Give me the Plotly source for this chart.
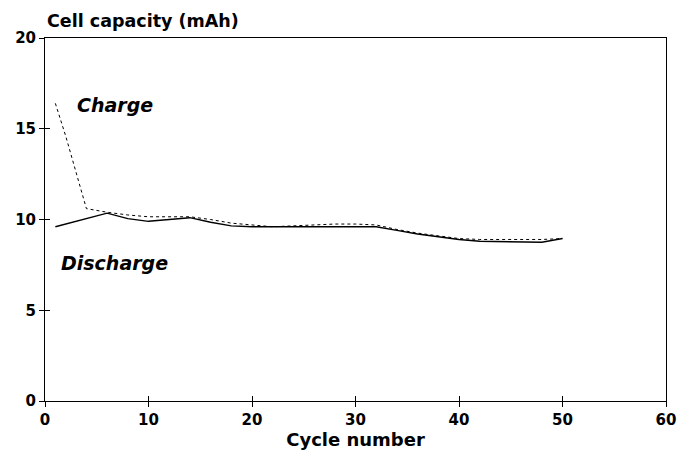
import plotly.graph_objects as go

# Data
charge_cycles = [1, 2, 3, 4, 6, 8, 10, 12, 14, 16, 18, 20, 22, 24, 26, 28, 30, 32, 34, 36, 38, 40, 42, 44, 46, 48, 50]
charge_capacity = [16.4, 14.6, 12.6, 10.6, 10.4, 10.25, 10.15, 10.15, 10.15, 10.0, 9.8, 9.7, 9.6, 9.65, 9.7, 9.75, 9.75, 9.7, 9.45, 9.25, 9.1, 8.95, 8.9, 8.9, 8.9, 8.9, 8.95]

discharge_cycles = [1, 6, 8, 10, 12, 14, 16, 18, 20, 22, 24, 26, 28, 30, 32, 34, 36, 38, 40, 42, 44, 46, 48, 50]
discharge_capacity = [9.6, 10.35, 10.05, 9.9, 10.0, 10.1, 9.85, 9.65, 9.6, 9.6, 9.6, 9.6, 9.6, 9.6, 9.6, 9.4, 9.2, 9.05, 8.9, 8.8, 8.78, 8.75, 8.75, 8.95]

x_ticks = [0, 10, 20, 30, 40, 50, 60]
y_ticks = [0, 5, 10, 15, 20]

FONT = "DejaVu Sans, Arial, sans-serif"

fig = go.Figure()
fig.add_trace(go.Scatter(x=charge_cycles, y=charge_capacity, mode="lines",
                         line=dict(color="black", width=1, dash="dot"),
                         showlegend=False, hoverinfo="skip"))
fig.add_trace(go.Scatter(x=discharge_cycles, y=discharge_capacity, mode="lines",
                         line=dict(color="black", width=1.4),
                         showlegend=False, hoverinfo="skip"))
# invisible trace to bind overlay axes (inside tick marks so ticks cross the axes)
fig.add_trace(go.Scatter(x=[x_ticks[0]], y=[y_ticks[0]], xaxis="x2", yaxis="y2",
                         mode="markers", marker=dict(opacity=0), showlegend=False,
                         hoverinfo="skip"))

axis_common = dict(showgrid=False, zeroline=False, showline=True, linecolor="black",
                   linewidth=1, ticks="outside", ticklen=5, tickwidth=1, tickcolor="black",
                   tickfont=dict(family=FONT, size=15, color="black", weight="bold"))

fig.update_layout(
    width=688, height=455,
    margin=dict(l=45, r=20, t=38, b=51),
    paper_bgcolor="white", plot_bgcolor="white",
    xaxis=dict(range=[0, 60], tickvals=x_ticks, mirror=True, **axis_common,
               title=dict(text="Cycle number", standoff=1,
                          font=dict(family=FONT, size=18, color="black", weight="bold"))),
    yaxis=dict(range=[0, 20], tickvals=y_ticks, mirror=True, **axis_common),
    xaxis2=dict(range=[0, 60], tickvals=x_ticks, overlaying="x", side="bottom",
                showgrid=False, zeroline=False, showline=False, showticklabels=False,
                ticks="inside", ticklen=5, tickcolor="black"),
    yaxis2=dict(range=[0, 20], tickvals=y_ticks, overlaying="y", side="left",
                showgrid=False, zeroline=False, showline=False, showticklabels=False,
                ticks="inside", ticklen=5, tickcolor="black"),
    annotations=[
        dict(text="Cell capacity (mAh)", xref="paper", yref="paper", x=0, y=1,
             xanchor="left", yanchor="bottom", yshift=5, showarrow=False,
             font=dict(family=FONT, size=17.5, color="black", weight="bold")),
        dict(text="<i>Charge</i>", x=2.9, y=16.3, xanchor="left", yanchor="middle",
             showarrow=False, font=dict(family=FONT, size=19, color="black", weight="bold")),
        dict(text="<i>Discharge</i>", x=1.4, y=7.6, xanchor="left", yanchor="middle",
             showarrow=False, font=dict(family=FONT, size=19, color="black", weight="bold")),
    ],
)

fig.write_html("out.html")
